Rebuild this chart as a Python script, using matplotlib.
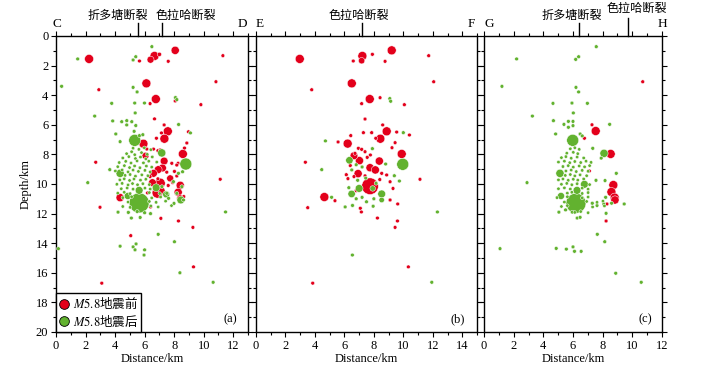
import numpy as np
import matplotlib
matplotlib.use('Agg')
import matplotlib.pyplot as plt
from matplotlib.lines import Line2D
from matplotlib.ticker import MultipleLocator

plt.rcParams['font.family'] = ['Liberation Serif', 'Noto Sans CJK SC']
plt.rcParams['mathtext.fontset'] = 'stix'
plt.rcParams['font.size'] = 9

RED = '#E3001B'
GREEN = '#62B22F'

# events: (distance km, depth km, magnitude)
a_red = [
    (2.24, 1.55, 3.0), (8.07, 0.97, 2.8), (6.67, 1.35, 3.0), (6.40, 1.60, 2.5), (7.00, 1.24, 1.5),
    (5.65, 1.69, 1.3), (7.60, 1.71, 1.3), (11.30, 1.33, 1.3), (6.12, 3.20, 3.0), (2.90, 3.63, 1.3),
    (10.83, 3.09, 1.3), (6.76, 4.26, 3.0), (6.37, 4.57, 1.3), (8.07, 4.39, 1.3), (9.81, 4.64, 1.3),
    (6.67, 5.60, 1.3), (7.32, 6.01, 1.3), (7.57, 6.44, 3.0), (7.14, 6.55, 1.3), (8.97, 6.47, 1.3),
    (7.34, 6.94, 3.0), (6.80, 6.91, 1.3), (5.92, 7.28, 3.0), (8.86, 7.23, 1.3), (8.70, 7.57, 1.3),
    (6.60, 7.64, 1.3), (6.15, 7.64, 1.3), (6.90, 7.75, 1.3), (7.05, 7.70, 1.3), (8.59, 7.97, 3.0),
    (6.06, 8.09, 2.5), (7.32, 8.45, 2.7), (8.27, 8.60, 1.3), (2.69, 8.53, 1.3), (7.84, 8.60, 1.3),
    (8.18, 8.72, 1.3), (7.21, 8.92, 2.7), (6.92, 9.03, 2.7), (6.60, 9.28, 2.7), (8.02, 9.15, 1.3),
    (7.73, 9.62, 2.5), (8.18, 9.46, 1.3), (6.37, 9.50, 1.3), (6.90, 9.65, 1.3), (7.05, 9.95, 3.2),
    (6.53, 9.91, 2.7), (6.87, 10.59, 3.3), (7.15, 10.45, 2.5), (8.41, 10.09, 2.8), (11.12, 9.68, 1.3),
    (8.27, 10.56, 2.8), (4.34, 10.92, 2.8), (8.41, 10.97, 2.5), (8.65, 10.85, 1.3), (2.98, 11.57, 1.3),
    (7.10, 12.32, 1.3), (8.29, 12.50, 1.3), (9.27, 12.93, 1.3), (5.06, 13.49, 1.3), (9.31, 15.60, 1.3),
    (3.10, 16.70, 1.3), (7.50, 9.20, 1.3), (7.90, 9.90, 1.3), (6.20, 10.60, 1.3), (6.40, 11.55, 1.3),
    (7.60, 10.10, 1.3),
]
a_green = [
    (5.33, 7.05, 3.5), (7.16, 7.90, 2.8), (8.79, 8.65, 3.5), (4.34, 9.28, 2.8), (6.78, 10.25, 2.7),
    (5.63, 10.43, 2.7), (7.46, 10.70, 2.5), (4.86, 10.81, 2.5), (8.45, 11.08, 2.7), (5.63, 11.28, 4.6),
    (6.49, 0.72, 1.3), (1.47, 1.55, 1.3), (5.22, 1.62, 1.3), (5.40, 1.40, 1.3), (0.38, 3.40, 1.3),
    (5.22, 3.47, 1.3), (5.49, 3.78, 1.3), (8.09, 4.16, 1.3), (8.18, 4.30, 1.3), (3.77, 4.55, 1.3),
    (5.33, 4.53, 1.3), (5.99, 4.53, 1.3), (5.36, 5.20, 1.3), (2.62, 5.41, 1.3), (3.84, 5.74, 1.3),
    (4.45, 5.79, 1.3), (4.79, 5.72, 1.3), (5.13, 5.79, 1.3), (4.79, 6.01, 1.3), (5.40, 6.05, 1.3),
    (8.30, 5.98, 1.3), (4.05, 6.62, 1.3), (5.29, 6.44, 1.3), (5.65, 6.73, 1.3), (5.88, 6.67, 1.3),
    (9.10, 6.55, 1.3), (4.34, 7.14, 1.3), (3.64, 9.03, 1.3), (2.15, 9.91, 1.3), (11.48, 11.89, 1.3),
    (6.92, 13.40, 1.3), (8.02, 13.90, 1.3), (0.16, 14.37, 1.3), (4.34, 14.20, 1.3), (5.22, 14.25, 1.3),
    (5.42, 14.05, 1.3), (5.35, 14.45, 1.3), (6.00, 14.45, 1.3), (5.96, 14.80, 1.3), (8.39, 16.00, 1.3),
    (10.64, 16.64, 1.3),
    (8.29, 9.28, 1.3), (8.57, 9.17, 1.3), (7.95, 9.84, 1.3), (8.52, 10.18, 1.3), (8.18, 10.63, 1.3),
    (8.63, 11.08, 1.3), (7.99, 11.31, 1.3), (7.62, 10.97, 1.3), (7.50, 10.63, 1.3), (7.17, 10.18, 1.3),
    (5.22, 7.58, 1.15), (5.61, 7.66, 1.15), (5.98, 7.55, 1.15), (6.42, 7.68, 1.15),
    (4.78, 7.95, 1.15), (5.12, 7.82, 1.15), (5.33, 8.02, 1.15), (5.79, 7.88, 1.15), (6.18, 8.00, 1.15),
    (4.52, 8.24, 1.15), (4.93, 8.15, 1.15), (5.38, 8.28, 1.15), (5.72, 8.18, 1.15), (6.08, 8.30, 1.15),
    (6.52, 8.17, 1.15),
    (4.28, 8.55, 1.15), (4.72, 8.47, 1.15), (5.08, 8.58, 1.15), (5.49, 8.44, 1.15), (5.92, 8.57, 1.15),
    (6.28, 8.46, 1.15), (6.82, 8.52, 1.15),
    (4.18, 8.83, 1.15), (4.63, 8.76, 1.15), (4.98, 8.89, 1.15), (5.32, 8.78, 1.15), (5.68, 8.90, 1.15),
    (6.12, 8.79, 1.15), (6.48, 8.86, 1.15),
    (4.02, 9.12, 1.15), (4.48, 9.05, 1.15), (4.88, 9.18, 1.15), (5.22, 9.06, 1.15), (5.58, 9.15, 1.15),
    (6.02, 9.08, 1.15), (6.38, 9.18, 1.15),
    (4.68, 9.42, 1.15), (5.02, 9.36, 1.15), (5.38, 9.47, 1.15), (5.81, 9.38, 1.15), (6.22, 9.44, 1.15),
    (4.32, 9.72, 1.15), (4.62, 9.65, 1.15), (4.98, 9.76, 1.15), (5.28, 9.66, 1.15), (5.72, 9.74, 1.15),
    (6.08, 9.68, 1.15),
    (4.12, 10.02, 1.15), (4.48, 9.96, 1.15), (4.88, 10.06, 1.15), (5.18, 9.97, 1.15), (5.52, 10.05, 1.15),
    (5.88, 9.98, 1.15), (6.32, 10.04, 1.15),
    (4.42, 10.32, 1.15), (4.82, 10.27, 1.15), (5.22, 10.35, 1.15), (6.02, 10.28, 1.15), (6.38, 10.34, 1.15),
    (4.18, 10.62, 1.15), (4.62, 10.56, 1.15), (5.02, 10.65, 1.15), (6.32, 10.58, 1.15), (7.02, 10.64, 1.15),
    (4.52, 10.92, 1.15), (5.12, 10.86, 1.15), (6.48, 10.94, 1.15), (7.08, 10.88, 1.15),
    (4.88, 11.22, 1.15), (6.32, 11.18, 1.15), (6.78, 11.24, 1.15), (7.42, 11.16, 1.15),
    (4.52, 11.52, 1.15), (5.02, 11.58, 1.15), (6.42, 11.48, 1.15), (6.92, 11.55, 1.15), (7.82, 11.46, 1.15),
    (4.20, 11.90, 1.3), (4.90, 11.92, 1.3), (5.50, 11.86, 1.3), (6.00, 11.94, 1.3), (6.40, 12.00, 1.3),
    (5.10, 12.30, 1.3), (5.70, 12.26, 1.3),
]

b_red = [
    (2.97, 1.55, 3.0), (7.22, 1.35, 3.0), (7.17, 1.67, 2.3), (7.90, 1.24, 1.3), (9.21, 0.97, 3.0),
    (6.60, 1.69, 1.3), (8.76, 1.71, 1.3), (11.72, 1.33, 1.3), (6.50, 3.20, 3.0), (3.78, 3.63, 1.3),
    (12.06, 3.09, 1.3), (7.72, 4.26, 3.0), (8.42, 4.17, 1.3), (7.17, 4.57, 1.3), (10.07, 4.64, 1.3),
    (7.40, 5.61, 1.3), (8.60, 6.01, 1.3), (8.87, 6.44, 3.0), (9.55, 6.49, 1.3), (10.41, 6.69, 1.3),
    (7.85, 6.53, 1.3), (7.29, 6.53, 1.3), (8.44, 6.94, 3.0), (8.13, 6.91, 1.3), (5.57, 7.16, 1.3),
    (6.22, 7.27, 3.0), (9.44, 7.21, 1.3), (6.43, 6.73, 1.3), (9.23, 7.55, 1.3), (6.95, 7.59, 1.3),
    (7.17, 7.66, 1.3), (7.40, 7.82, 1.3), (6.72, 7.93, 1.3), (9.89, 7.97, 3.0), (7.76, 8.04, 1.3),
    (6.65, 8.09, 2.7), (3.35, 8.53, 1.3), (8.37, 8.45, 2.8), (7.02, 8.42, 2.8), (7.74, 8.90, 2.8),
    (8.10, 9.05, 2.8), (6.93, 9.30, 2.8), (6.13, 9.37, 1.3), (6.24, 9.64, 1.3), (6.65, 9.50, 1.3),
    (8.53, 9.28, 1.3), (8.87, 9.39, 1.3), (9.10, 9.85, 1.3), (11.13, 9.68, 1.3), (7.74, 10.15, 4.2),
    (4.64, 10.88, 3.0), (5.36, 11.13, 1.3), (3.51, 11.60, 1.3), (9.10, 11.08, 1.3), (9.62, 11.35, 1.3),
    (7.08, 11.64, 1.3), (7.15, 11.89, 1.3), (8.24, 12.30, 1.3), (9.60, 12.50, 1.3), (9.44, 12.93, 1.3),
    (10.34, 15.60, 1.3), (3.85, 16.70, 1.3), (7.40, 9.45, 1.3), (8.40, 9.70, 1.3), (6.80, 10.45, 1.3),
    (9.30, 10.30, 1.3), (7.55, 8.20, 1.3), (6.40, 8.75, 1.3),
]
b_green = [
    (9.08, 4.23, 1.3), (9.14, 4.41, 1.3), (10.00, 6.53, 1.3), (4.71, 7.09, 1.3), (7.90, 7.61, 1.3),
    (6.34, 8.40, 2.6), (4.46, 9.03, 1.3), (9.96, 8.67, 3.5), (8.80, 8.65, 1.3), (9.39, 9.44, 1.3),
    (9.73, 9.80, 1.3), (7.00, 10.30, 2.7), (7.92, 10.30, 2.0), (8.15, 9.95, 1.3), (8.53, 10.67, 2.7),
    (6.49, 10.67, 2.6), (8.53, 11.08, 2.0), (5.13, 10.90, 1.3), (6.05, 11.55, 1.3), (6.55, 11.45, 1.3),
    (7.20, 10.90, 1.3), (7.95, 11.50, 1.3), (8.00, 11.00, 1.3), (12.31, 11.89, 1.3), (6.54, 14.80, 1.3),
    (11.93, 16.64, 1.3), (6.80, 8.70, 1.3), (7.20, 8.85, 1.3), (6.50, 9.05, 1.3), (6.90, 9.75, 1.3),
    (7.45, 9.60, 1.3), (6.30, 10.25, 1.3), (6.80, 11.00, 1.3), (7.50, 11.20, 1.3),
]

c_red = [
    (10.70, 3.09, 1.3), (7.28, 6.00, 1.3), (7.53, 6.42, 3.0), (6.77, 6.91, 1.3), (8.54, 7.97, 3.0),
    (7.10, 9.12, 1.3), (8.72, 10.07, 3.0), (8.59, 10.54, 3.0), (8.81, 10.92, 3.0), (8.83, 11.08, 2.8),
    (8.29, 11.35, 1.3), (8.23, 12.50, 1.3),
]
c_green = [
    (5.98, 7.05, 3.5), (8.09, 7.93, 2.8), (5.12, 9.28, 2.8), (6.77, 10.02, 2.7), (6.27, 10.43, 2.7),
    (5.19, 10.81, 2.5), (6.20, 11.30, 4.6),
    (7.57, 0.72, 1.3), (2.20, 1.55, 1.3), (6.18, 1.58, 1.3), (6.38, 1.40, 1.3), (1.21, 3.40, 1.3),
    (6.20, 3.47, 1.3), (6.38, 3.78, 1.3), (4.65, 4.55, 1.3), (5.93, 4.53, 1.3), (6.97, 4.55, 1.3),
    (6.02, 5.20, 1.3), (3.26, 5.41, 1.3), (4.68, 5.72, 1.3), (5.39, 5.97, 1.3), (5.69, 5.77, 1.3),
    (6.00, 5.77, 1.3), (6.00, 6.06, 1.3), (5.69, 6.17, 1.3), (8.47, 5.97, 1.3), (4.83, 6.62, 1.3),
    (6.48, 6.62, 1.3), (6.62, 6.75, 1.3), (7.33, 7.59, 1.3), (7.90, 8.25, 1.3), (2.90, 9.91, 1.3),
    (8.92, 9.28, 1.3), (7.55, 9.75, 1.3), (8.16, 9.77, 1.3), (8.20, 10.90, 1.3), (8.08, 11.35, 1.3),
    (7.62, 11.45, 1.3), (7.30, 11.30, 1.3), (8.60, 11.30, 1.3), (9.45, 11.35, 1.3), (8.23, 11.98, 1.3),
    (5.05, 11.90, 1.3), (5.50, 11.75, 1.3), (5.95, 11.90, 1.3), (6.28, 12.30, 1.3), (6.48, 12.25, 1.3),
    (7.64, 13.40, 1.3), (8.14, 13.90, 1.3), (1.08, 14.37, 1.3), (4.87, 14.35, 1.3), (5.55, 14.40, 1.3),
    (6.00, 14.25, 1.3), (6.10, 14.55, 1.3), (6.55, 14.55, 1.3), (8.88, 16.03, 1.3), (10.60, 16.64, 1.3),
    (5.82, 7.62, 1.15), (6.12, 7.55, 1.15), (6.42, 7.66, 1.15),
    (5.58, 7.92, 1.15), (6.02, 7.86, 1.15), (6.32, 7.95, 1.15),
    (5.22, 8.22, 1.15), (5.52, 8.15, 1.15), (5.88, 8.26, 1.15), (6.28, 8.18, 1.15), (6.72, 8.24, 1.15),
    (5.02, 8.52, 1.15), (5.42, 8.46, 1.15), (5.78, 8.56, 1.15), (6.12, 8.48, 1.15), (6.52, 8.55, 1.15),
    (6.88, 8.46, 1.15), (7.22, 8.54, 1.15),
    (5.32, 8.82, 1.15), (5.68, 8.76, 1.15), (6.02, 8.86, 1.15), (6.42, 8.78, 1.15), (6.78, 8.84, 1.15),
    (7.12, 8.76, 1.15),
    (5.52, 9.12, 1.15), (5.88, 9.06, 1.15), (6.22, 9.16, 1.15), (6.62, 9.08, 1.15), (7.02, 9.14, 1.15),
    (5.48, 9.42, 1.15), (5.82, 9.36, 1.15), (6.12, 9.45, 1.15), (6.48, 9.38, 1.15), (6.92, 9.44, 1.15),
    (5.02, 9.72, 1.15), (5.32, 9.66, 1.15), (5.68, 9.75, 1.15), (6.02, 9.68, 1.15), (6.32, 9.74, 1.15),
    (6.72, 9.66, 1.15),
    (5.22, 10.02, 1.15), (5.58, 9.96, 1.15), (5.92, 10.05, 1.15), (6.28, 9.98, 1.15), (7.12, 10.04, 1.15),
    (5.02, 10.32, 1.15), (5.42, 10.26, 1.15), (5.82, 10.34, 1.15), (6.62, 10.28, 1.15), (7.02, 10.35, 1.15),
    (5.62, 10.62, 1.15), (5.92, 10.56, 1.15), (6.62, 10.64, 1.15), (7.02, 10.58, 1.15),
    (4.92, 10.92, 1.15), (5.62, 10.86, 1.15), (6.62, 10.94, 1.15), (7.02, 10.88, 1.15),
    (5.42, 11.22, 1.15), (6.92, 11.18, 1.15), (7.62, 11.24, 1.15), (8.02, 11.16, 1.15),
    (5.22, 11.52, 1.15), (5.62, 11.46, 1.15), (7.32, 11.55, 1.15), (8.12, 11.48, 1.15),
    (6.12, 11.92, 1.15), (6.52, 11.86, 1.15), (7.02, 11.94, 1.15),
]

panels = [(a_red, a_green), (b_red, b_green), (c_red, c_green)]
panel_xmax = [13, 15, 12]
panel_tags = ['(a)', '(b)', '(c)']
# profile end letters: (text, axes x)
end_letters = [[('C', 0.005), ('D', 0.97)], [('E', 0.018), ('F', 0.973)], [('G', 0.028), ('H', 1.0)]]
# faults: (name, tick distance, label distance, tick top, label height) heights in axes fraction
faults = [
    [('折多塘断裂', 5.58, 4.2, 1.044, 1.068), ('色拉哈断裂', 7.2, 8.8, 1.044, 1.068)],
    [('色拉哈断裂', 7.2, 7.0, 1.044, 1.068)],
    [('折多塘断裂', 6.4, 5.93, 1.044, 1.068), ('色拉哈断裂', 9.7, 10.3, 1.06, 1.09)],
]
axes_boxes = [(56, 248), (256, 477), (484, 662)]


def marker_area(mag):
    d = np.interp(mag, [1.0, 1.3, 2.0, 2.5, 3.0, 3.5, 4.0, 4.6], [3.0, 3.8, 5.5, 7.0, 9.0, 12.0, 15.0, 20.0])
    return (d * 0.72) ** 2


def draw_events(ax, events, color):
    events = sorted(events, key=lambda e: -e[2])
    x = [e[0] for e in events]
    y = [e[1] for e in events]
    s = [marker_area(e[2]) for e in events]
    ax.scatter(x, y, s=s, c=color, edgecolors='white', linewidths=0.35, zorder=3, clip_on=False)


fig = plt.figure(figsize=(7.07, 3.74), dpi=100)
W, H = 707, 374
top_px, bot_px = 36, 332

for i, (red, green) in enumerate(panels):
    l, r = axes_boxes[i]
    ax = fig.add_axes([l / W, 1 - bot_px / H, (r - l) / W, (bot_px - top_px) / H])
    draw_events(ax, red, RED)
    draw_events(ax, green, GREEN)

    ax.set_xlim(0, panel_xmax[i])
    ax.set_ylim(20, 0)
    ax.xaxis.set_major_locator(MultipleLocator(2))
    ax.xaxis.set_minor_locator(MultipleLocator(1))
    ax.yaxis.set_major_locator(MultipleLocator(2))
    ax.yaxis.set_minor_locator(MultipleLocator(1))
    ax.tick_params(which='both', direction='out', top=True, right=True, width=0.8, labelsize=9, pad=2)
    ax.tick_params(which='major', length=3.5)
    ax.tick_params(which='minor', length=2)
    if i > 0:
        ax.tick_params(labelleft=False)
    for sp in ax.spines.values():
        sp.set_linewidth(1.0)
    ax.set_xlabel('Distance/km', fontsize=9, labelpad=1)
    if i == 0:
        ax.set_ylabel('Depth/km', fontsize=9, labelpad=3)

    ax.text(0.945, 0.022, panel_tags[i], transform=ax.transAxes, ha='right', va='bottom', fontsize=9)

    for letter, xf in end_letters[i]:
        ax.text(xf, 1.04, letter, transform=ax.transAxes, ha='center', va='center', fontsize=9.5)

    trans = ax.get_xaxis_transform()
    for name, fx, lx, tick_top, label_y in faults[i]:
        ax.plot([fx, fx], [1.0, tick_top], color='k', lw=1.0, transform=trans, clip_on=False)
        ax.text(lx, label_y, name, transform=trans, ha='center', va='center', fontsize=8.7)

    if i == 0:
        handles = [
            Line2D([], [], ls='', marker='o', mfc=RED, mec='k', mew=0.6, ms=7, label=r'$M\mathrm{5.8}$地震前'),
            Line2D([], [], ls='', marker='o', mfc=GREEN, mec='k', mew=0.6, ms=7, label=r'$M\mathrm{5.8}$地震后'),
        ]
        leg = ax.legend(handles=handles, loc='lower left', borderaxespad=0, fancybox=False,
                        edgecolor='k', framealpha=1, handlelength=0.8, handletextpad=0.3,
                        borderpad=0.25, labelspacing=0.2,
                        prop={'family': 'Noto Sans CJK SC', 'size': 9})
        leg.get_frame().set_linewidth(1.0)
        leg.set_zorder(5)

fig.savefig('out.png', dpi=100)
